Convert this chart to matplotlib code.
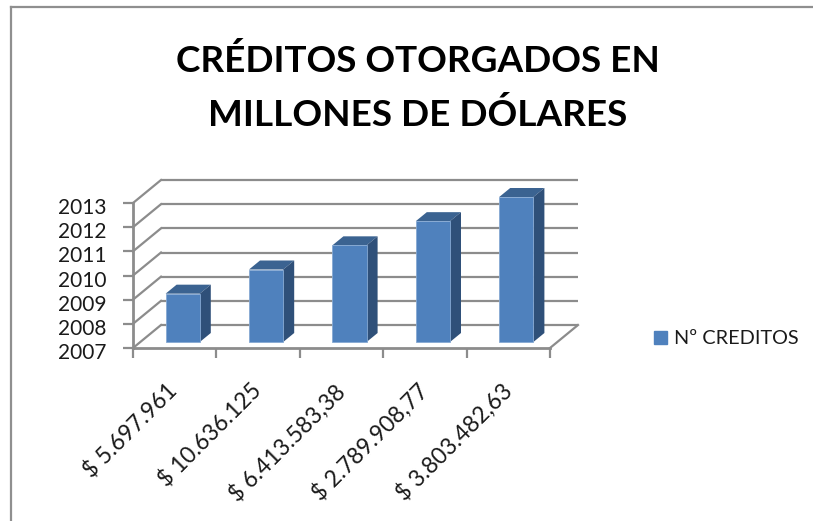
import matplotlib
matplotlib.use("Agg")
import matplotlib.pyplot as plt
from matplotlib.patches import Polygon, Rectangle
from matplotlib.transforms import Affine2D

plt.rcParams["font.family"] = ["Lato", "DejaVu Sans"]

# Datos
etiquetas = ["$ 5.697.961", "$ 10.636.125", "$ 6.413.583,38", "$ 2.789.908,77", "$ 3.803.482,63"]
anios = [2009, 2010, 2011, 2012, 2013]
ticks_y = [2007, 2008, 2009, 2010, 2011, 2012, 2013]
serie = "Nº CREDITOS"
titulo = "CRÉDITOS OTORGADOS EN\nMILLONES DE DÓLARES"

AZUL = "#4f81bd"
AZUL_SUP = "#3b6391"
AZUL_LADO = "#2f5079"
GRIS = "#8c8c8c"

W, H = 813, 521
fig = plt.figure(figsize=(W / 100, H / 100), dpi=100)
fig.patch.set_facecolor("white")

# marco del grafico (solo arriba e izquierda se ven en la captura)
fig.add_artist(plt.Line2D([11 / W, 11 / W], [0, 1 - 7 / H], color="#8f8f8f", lw=1.6))
fig.add_artist(plt.Line2D([11 / W, 1], [1 - 7 / H, 1 - 7 / H], color="#8f8f8f", lw=1.6))

# el eje es el plano frontal del grafico
x0, x1, y_abajo, y_arriba = 133, 550, 348, 203
ax = fig.add_axes([x0 / W, 1 - y_abajo / H, (x1 - x0) / W, (y_abajo - y_arriba) / H])
n = len(etiquetas)
ax.set_xlim(0, n)
ax.set_ylim(ticks_y[0], ticks_y[-1])
ax.patch.set_alpha(0)
for s in ax.spines.values():
    s.set_visible(False)

# desplazamientos en pixeles para simular la profundidad
fondo = ax.transData + Affine2D().translate(28, 23)
plano_barra = ax.transData + Affine2D().translate(8, 6)
inv = ax.transData.inverted()


def a_fondo(x, y):
    return inv.transform(fondo.transform((x, y)))


# paredes: lineas del fondo y diagonales
ax.hlines(ticks_y, 0, n, color=GRIS, lw=1.6, transform=fondo, clip_on=False, zorder=1)
for y in ticks_y:
    b = a_fondo(0, y)
    ax.plot([0, b[0]], [y, b[1]], color=GRIS, lw=1.6, clip_on=False, zorder=1)
b = a_fondo(n, ticks_y[0])
ax.plot([n, b[0]], [ticks_y[0], b[1]], color=GRIS, lw=1.6, clip_on=False, zorder=1)
ax.plot([0, n], [ticks_y[0], ticks_y[0]], color=GRIS, lw=2, clip_on=False, zorder=1)
ax.plot([0, 0], [ticks_y[0], ticks_y[-1]], color=GRIS, lw=2, clip_on=False, zorder=1)

# barras 3D
ancho = 0.41
posiciones = [i + 0.5 for i in range(n)]
ax.bar(posiciones, [a - ticks_y[0] for a in anios], bottom=ticks_y[0], width=ancho,
       color=AZUL, edgecolor="#86a9d3", lw=0.6, transform=plano_barra, zorder=4, clip_on=False)
dx_prof, dy_prof = 11, 9
for x, a in zip(posiciones, anios):
    xi, yt = plano_barra.transform((x - ancho / 2, a))
    xd, yb = plano_barra.transform((x + ancho / 2, ticks_y[0]))
    tapa = [(xi, yt), (xd, yt), (xd + dx_prof, yt + dy_prof), (xi + dx_prof, yt + dy_prof)]
    lado = [(xd, yt), (xd + dx_prof, yt + dy_prof), (xd + dx_prof, yb + dy_prof), (xd, yb)]
    ax.add_patch(Polygon(inv.transform(tapa), closed=True, color=AZUL_SUP, lw=0, zorder=3, clip_on=False))
    ax.add_patch(Polygon(inv.transform(lado), closed=True, color=AZUL_LADO, lw=0, zorder=3, clip_on=False))

# ticks
ax.set_yticks(ticks_y)
ax.set_yticklabels([str(t) for t in ticks_y], fontsize=15, color="#1a1a1a")
ax.set_xticks(range(n + 1))
ax.set_xticklabels([""] * (n + 1))
ax.tick_params(axis="y", length=7, width=1.6, color=GRIS, pad=12)
ax.tick_params(axis="x", length=7, width=1.6, color=GRIS)
# los numeros quedan un poco por debajo de cada marca
for lbl in ax.get_yticklabels():
    lbl.set_transform(lbl.get_transform() + Affine2D().translate(0, -3))

# etiquetas inclinadas del eje x
for x, txt in zip(posiciones, etiquetas):
    ax.annotate(txt, xy=(x, ticks_y[0]), xytext=(-8, -32), textcoords="offset pixels",
                rotation=45, ha="right", va="top", rotation_mode="anchor",
                fontsize=16.4, color="#1a1a1a", annotation_clip=False)

# titulo
fig.text(418 / W, 1 - 88 / H, titulo, ha="center", va="center", fontsize=26.6, fontweight="bold",
         color="black", linespacing=1.68)

# leyenda
fig.add_artist(Rectangle((654 / W, 1 - 344 / H), 13 / W, 13 / H, color=AZUL, transform=fig.transFigure))
fig.text(674 / W, 1 - 338 / H, serie, ha="left", va="center", fontsize=14.3, color="#1a1a1a")

fig.savefig("out.png", dpi=100)
